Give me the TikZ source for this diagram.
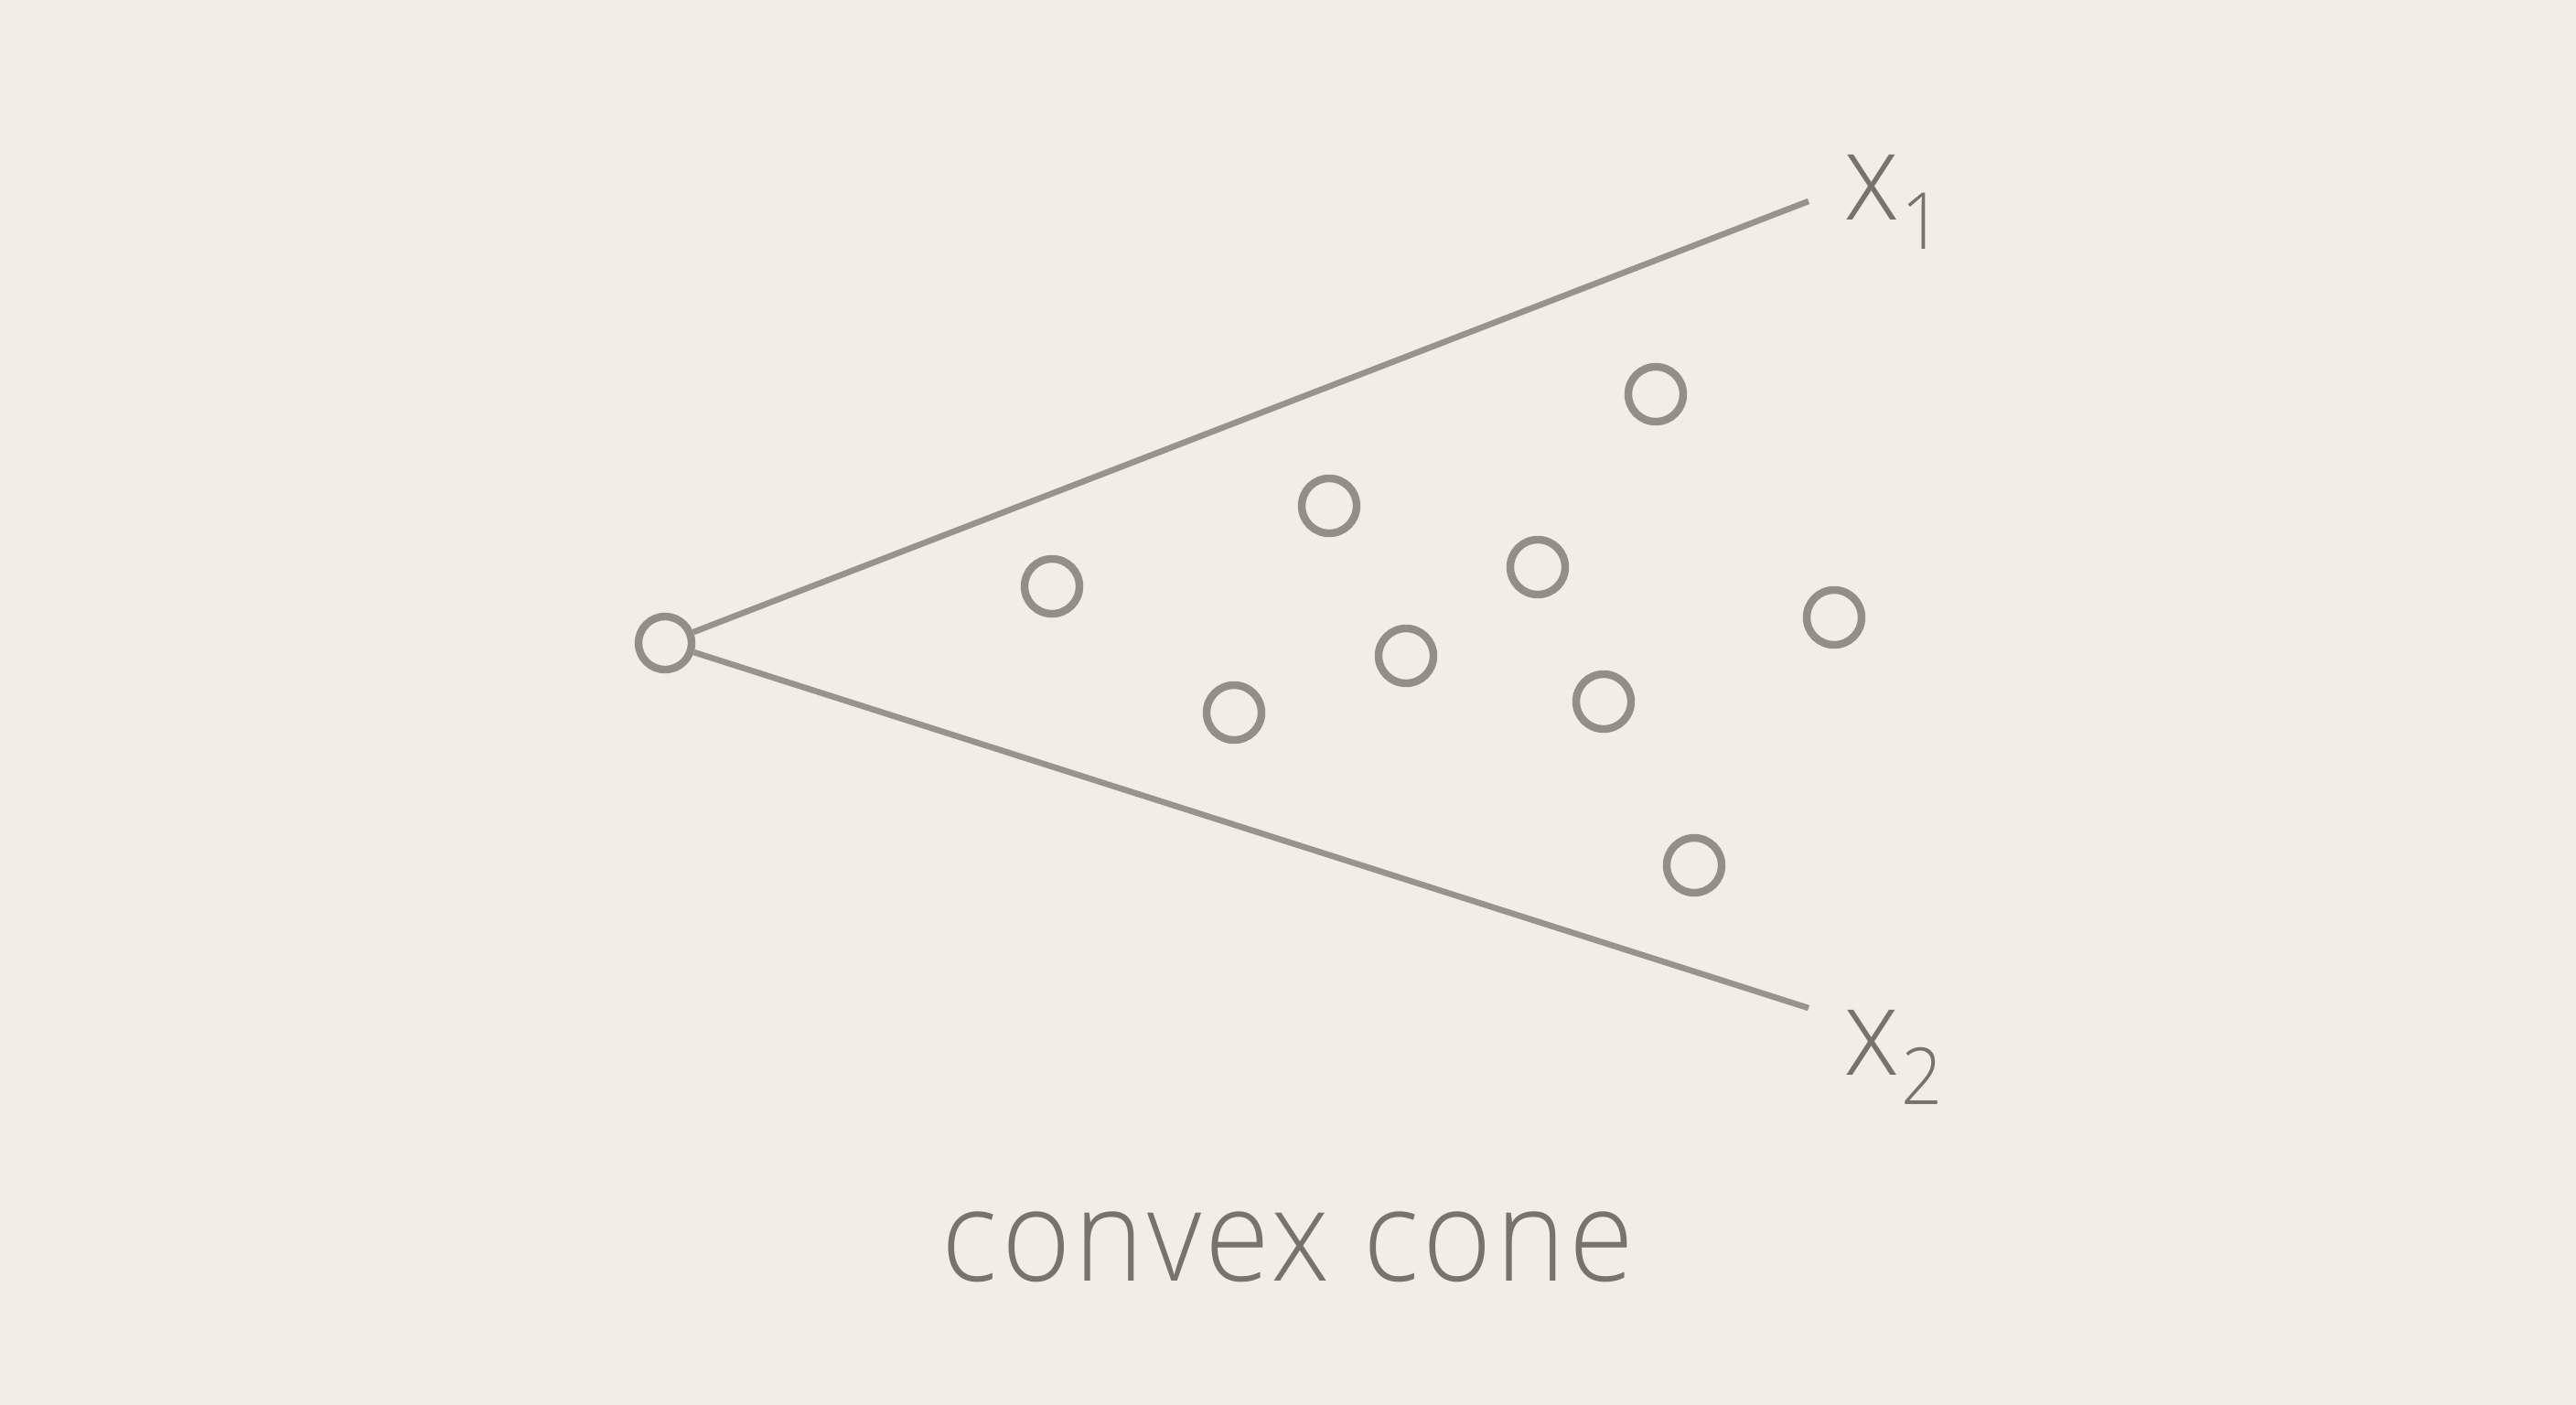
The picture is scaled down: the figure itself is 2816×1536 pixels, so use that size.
\documentclass[tikz,border=0pt]{standalone}
\usepackage{fontspec}
\newfontfamily\lbl{Open Sans Light}[FakeStretch=0.92,LetterSpace=2.8]
\definecolor{bg}{HTML}{F3EEE5}
\definecolor{ln}{HTML}{9A938B}
\definecolor{ci}{HTML}{958E87}
\definecolor{tx}{HTML}{78736C}
\tikzset{
  pt/.style={circle, draw=ci, line width=4.2pt, inner sep=0pt, minimum size=30pt},
  ray/.style={draw=ln, line width=3.3pt},
  lab/.style={text=tx, inner sep=0pt, anchor=base west, font=\lbl}
}
\begin{document}
\begin{tikzpicture}[x=0.5pt,y=-0.5pt]
\fill[bg] (0,0) rectangle (2816,1536);
\useasboundingbox (0,0) rectangle (2816,1536);
\node[pt, minimum size=29pt] (apex) at (727,703) {};
\coordinate (e1) at (1977,220);
\coordinate (e2) at (1977,1102);
\draw[ray] (apex) -- (e1);
\draw[ray] (apex) -- (e2);
\node[pt] (p1) at (1150,641) {};
\node[pt] (p2) at (1453,553) {};
\node[pt] (p3) at (1810,431) {};
\node[pt] (p4) at (1681,620) {};
\node[pt] (p5) at (2005,675) {};
\node[pt] (p6) at (1537,717) {};
\node[pt] (p7) at (1349,779) {};
\node[pt] (p8) at (1753,767) {};
\node[pt] (p9) at (1852,946) {};
\node[lab] (l1) at (2015,240) {\fontsize{67}{67}\selectfont x\hspace{1pt}\raisebox{-16pt}{\fontsize{43}{43}\selectfont 1}};
\node[lab] (l2) at (2015,1175) {\fontsize{67}{67}\selectfont x\hspace{1pt}\raisebox{-16pt}{\fontsize{43}{43}\selectfont 2}};
\node[text=tx, inner sep=0pt, anchor=base, font=\lbl] (title) at (1408,1400) {\fontsize{70}{70}\selectfont convex cone};
\end{tikzpicture}
\end{document}
